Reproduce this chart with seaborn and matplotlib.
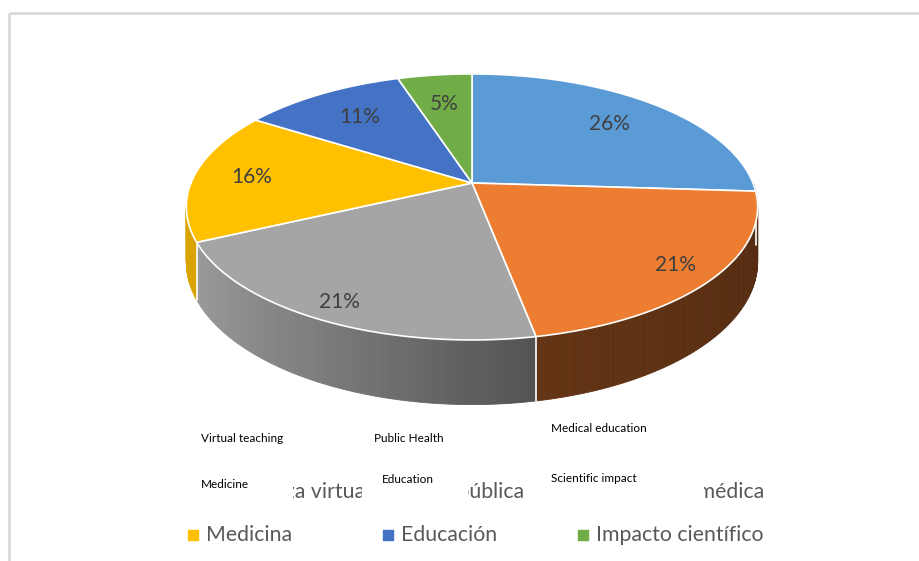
import numpy as np
import matplotlib
matplotlib.use("Agg")
import matplotlib.pyplot as plt
from matplotlib.patches import Polygon, Rectangle
import seaborn as sns

# datos del grafico
categorias = ["Enseñanza virtual", "Salud pública", "Educación médica",
              "Medicina", "Educación", "Impacto científico"]
porcentajes = [26, 21, 21, 16, 11, 5]
etiquetas_en = ["Virtual teaching", "Public Health", "Medical education",
                "Medicine", "Education", "Scientific impact"]

colores = ["#5B9BD5", "#ED7D31", "#A5A5A5", "#FFC000", "#4472C4", "#70AD47"]
# sombreado de la pared lateral (izquierda, derecha)
sombra = [(0.6, 0.6), (0.42, 0.36), (0.93, 0.50), (0.85, 0.85), (0.6, 0.6), (0.6, 0.6)]

sns.set_theme(style="white")
plt.rcParams['font.family'] = ['Lato', 'DejaVu Sans']

# proyeccion del pastel 3D (pixeles)
CX, CY = 472, 183
RX, RY = 281, 128.7
H = 53
P = 0.18


def proyectar(r, t, z=0.0):
    x = r * np.cos(t)
    y = r * np.sin(t)
    s = 1.0 / (1.0 + P * y)
    return CX + RX * x * s, CY - RY * y * s + H * z * s


fig = plt.figure(figsize=(9.2, 5.61), dpi=100)
ax = fig.add_axes([0, 0, 1, 1])
ax.set_xlim(0, 920)
ax.set_ylim(561, 0)
ax.axis("off")

# marco del grafico
ax.add_patch(Rectangle((9, 13), 930, 570, fill=False, edgecolor="#D9D9D9", lw=2, zorder=0))

fr = np.array(porcentajes, dtype=float) / sum(porcentajes)
cum = np.concatenate([[0], np.cumsum(fr)])
ang0 = np.pi / 2 - 2 * np.pi * cum[:-1]
ang1 = np.pi / 2 - 2 * np.pi * cum[1:]

# paredes laterales (parte delantera)
for i in range(len(porcentajes)):
    lo, hi = max(ang1[i], -np.pi), min(ang0[i], 0.0)
    if hi <= lo:
        continue
    base = np.array(matplotlib.colors.to_rgb(colores[i]))
    ts = np.linspace(lo, hi, 90)
    c_lo, c_hi = np.cos(lo), np.cos(hi)
    for k in range(len(ts) - 1):
        tm = (ts[k] + ts[k + 1]) / 2
        f = (np.cos(tm) - c_lo) / (c_hi - c_lo) if c_hi != c_lo else 0
        fac = sombra[i][0] + (sombra[i][1] - sombra[i][0]) * f
        pts = [proyectar(1, ts[k]), proyectar(1, ts[k + 1]),
               proyectar(1, ts[k + 1], 1), proyectar(1, ts[k], 1)]
        col = np.clip(base * fac, 0, 1)
        ax.add_patch(Polygon(pts, closed=True, facecolor=col, edgecolor=col, lw=0.6, zorder=1))

# lineas blancas entre paredes
for t in ang1[:-1]:
    if -np.pi < t < 0:
        x0, y0 = proyectar(1, t)
        x1, y1 = proyectar(1, t, 1)
        ax.plot([x0, x1], [y0, y1], color="white", lw=1.2, zorder=2)

# cara superior
for i in range(len(porcentajes)):
    ts = np.linspace(ang0[i], ang1[i], 120)
    pts = [(CX, CY)] + [proyectar(1, t) for t in ts]
    ax.add_patch(Polygon(pts, closed=True, facecolor=colores[i], edgecolor="white",
                         lw=1.2, zorder=3))
    mid = (ang0[i] + ang1[i]) / 2
    r = 0.8 - 0.1 * np.sin(mid)
    lx, ly = proyectar(r, mid)
    ax.text(lx, ly, f"{porcentajes[i]}%", ha="center", va="center",
            fontsize=15, color="#404040", zorder=4)

# leyenda
for i, cat in enumerate(categorias):
    col, fila = i % 3, i // 3
    mx, my = 193 + 195 * col, 492 + 43 * fila
    ax.scatter([mx], [my], marker="s", s=45, color=colores[i], zorder=5)
    ax.text(mx + 13, my, cat, ha="left", va="center", fontsize=15.3,
            color="#595959", zorder=5)

# cuadros con la traduccion al ingles
cajas = [(185, 293), (362, 468), (525, 704)]
pos_en = [(201, 438), (374, 438), (551, 428), (201, 484), (382, 479), (551, 478)]
for x0, x1 in cajas:
    ax.add_patch(Rectangle((x0, 412), x1 - x0, 96, facecolor="white",
                           edgecolor="none", zorder=10))
for txt, (tx, ty) in zip(etiquetas_en, pos_en):
    ax.text(tx, ty, txt, ha="left", va="center", fontsize=8.5, color="black", zorder=11)

fig.savefig("out.png", dpi=100, facecolor="white")
